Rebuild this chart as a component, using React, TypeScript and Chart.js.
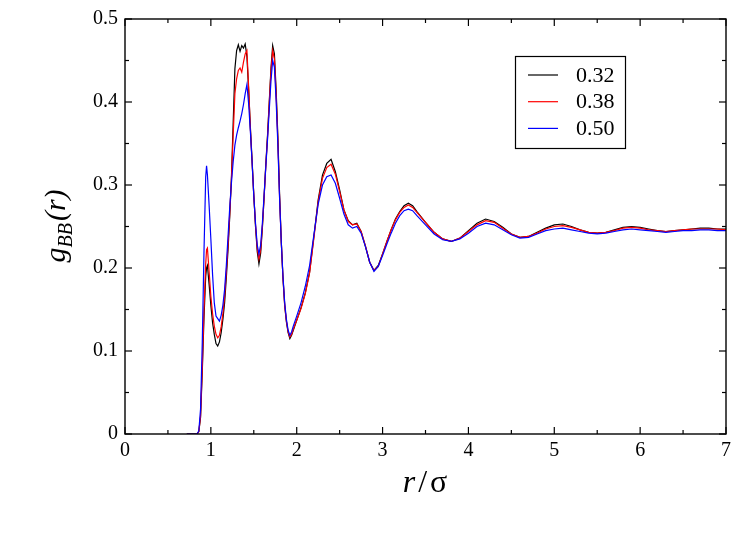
import React, { useEffect, useRef } from 'react';
import { Chart, registerables } from 'chart.js';

Chart.register(...registerables);

// r / sigma sample positions (shared by the three curves)
const rValues = [
  0.72, 0.8, 0.84, 0.86, 0.88, 0.9, 0.92, 0.94, 0.95, 0.96, 0.98,
  1.0, 1.02, 1.04, 1.06, 1.08, 1.1, 1.12, 1.14, 1.16, 1.18,
  1.2, 1.22, 1.24, 1.26, 1.28, 1.3, 1.32, 1.34, 1.36, 1.38,
  1.4, 1.42, 1.44, 1.46, 1.48, 1.5, 1.52, 1.54, 1.56, 1.58,
  1.6, 1.62, 1.64, 1.66, 1.68, 1.7, 1.72, 1.74, 1.76, 1.78,
  1.8, 1.82, 1.84, 1.86, 1.88, 1.9, 1.92, 1.94, 1.96, 1.98, 2.0,
  2.05, 2.1, 2.15, 2.2, 2.25, 2.3, 2.35, 2.4, 2.45, 2.5,
  2.55, 2.6, 2.65, 2.7, 2.75, 2.8, 2.85, 2.9, 2.95, 3.0,
  3.05, 3.1, 3.15, 3.2, 3.25, 3.3, 3.35, 3.4,
  3.5, 3.6, 3.7, 3.8, 3.9, 4.0, 4.1, 4.2, 4.3, 4.4, 4.5, 4.6,
  4.7, 4.8, 4.9, 5.0, 5.1, 5.2, 5.3, 5.4, 5.5, 5.6, 5.7, 5.8,
  5.9, 6.0, 6.1, 6.2, 6.3, 6.4, 6.5, 6.6, 6.7, 6.8, 6.9, 7.0,
];

const seriesLabels = ['0.32', '0.38', '0.50'];
const seriesColors = ['#000000', '#ff0000', '#0000ff'];

const g032 = [
  0, 0, 0, 0.003, 0.02, 0.075, 0.14, 0.19, 0.2, 0.203, 0.18,
  0.155, 0.134, 0.12, 0.109, 0.106, 0.111, 0.122, 0.138, 0.158, 0.188,
  0.222, 0.262, 0.31, 0.375, 0.44, 0.462, 0.469, 0.461, 0.468, 0.465,
  0.47, 0.455, 0.415, 0.37, 0.33, 0.288, 0.25, 0.22, 0.205, 0.218,
  0.248, 0.285, 0.325, 0.36, 0.4, 0.44, 0.468, 0.458, 0.415, 0.36,
  0.29, 0.232, 0.188, 0.155, 0.135, 0.122, 0.115, 0.119, 0.125, 0.131, 0.137,
  0.152, 0.17, 0.195, 0.238, 0.282, 0.312, 0.326, 0.331, 0.316, 0.294,
  0.27, 0.257, 0.252, 0.254, 0.244, 0.226, 0.207, 0.197, 0.203, 0.217,
  0.232, 0.246, 0.259, 0.268, 0.275, 0.278, 0.275, 0.268,
  0.255, 0.243, 0.235, 0.232, 0.236, 0.245, 0.254, 0.259, 0.256, 0.249, 0.241, 0.237,
  0.238, 0.243, 0.248, 0.252, 0.253, 0.25, 0.246, 0.243, 0.242, 0.243, 0.246, 0.249,
  0.25, 0.249, 0.247, 0.245, 0.244, 0.245, 0.246, 0.247, 0.248, 0.248, 0.247, 0.247,
];

const g038 = [
  0, 0, 0, 0.003, 0.022, 0.08, 0.15, 0.205, 0.222, 0.224, 0.195,
  0.166, 0.145, 0.13, 0.12, 0.116, 0.119, 0.129, 0.145, 0.166, 0.195,
  0.228, 0.266, 0.308, 0.36, 0.41, 0.428, 0.438, 0.441, 0.436, 0.448,
  0.458, 0.462, 0.418, 0.368, 0.328, 0.288, 0.252, 0.224, 0.211, 0.222,
  0.25, 0.285, 0.323, 0.358, 0.398, 0.437, 0.462, 0.452, 0.41, 0.355,
  0.287, 0.232, 0.188, 0.155, 0.136, 0.123, 0.117, 0.12, 0.126, 0.132, 0.137,
  0.151, 0.169, 0.194, 0.236, 0.28, 0.308, 0.321, 0.325, 0.313, 0.292,
  0.27, 0.256, 0.252, 0.253, 0.244, 0.227, 0.207, 0.197, 0.202, 0.217,
  0.232, 0.246, 0.258, 0.267, 0.273, 0.276, 0.273, 0.267,
  0.255, 0.243, 0.235, 0.232, 0.236, 0.244, 0.252, 0.257, 0.255, 0.248, 0.241, 0.237,
  0.238, 0.242, 0.247, 0.25, 0.251, 0.249, 0.246, 0.243, 0.242, 0.243, 0.245, 0.248,
  0.249, 0.248, 0.246, 0.245, 0.244, 0.245, 0.246, 0.247, 0.247, 0.247, 0.247, 0.246,
];

const g050 = [
  0, 0, 0, 0.004, 0.03, 0.11, 0.22, 0.31, 0.323, 0.312, 0.275,
  0.235, 0.192, 0.158, 0.142, 0.139, 0.136, 0.143, 0.155, 0.174, 0.203,
  0.238, 0.273, 0.303, 0.328, 0.348, 0.36, 0.369, 0.377, 0.386, 0.397,
  0.41, 0.421, 0.398, 0.365, 0.328, 0.287, 0.254, 0.228, 0.217, 0.228,
  0.254, 0.288, 0.322, 0.355, 0.39, 0.425, 0.45, 0.442, 0.402, 0.35,
  0.285, 0.232, 0.19, 0.158, 0.138, 0.125, 0.119, 0.123, 0.13, 0.136, 0.142,
  0.158, 0.178, 0.203, 0.24, 0.277, 0.3, 0.31, 0.312, 0.302, 0.284,
  0.265, 0.252, 0.248, 0.25, 0.242, 0.226, 0.207, 0.196, 0.202, 0.215,
  0.229, 0.242, 0.254, 0.263, 0.269, 0.271, 0.269, 0.263,
  0.252, 0.241, 0.234, 0.232, 0.235, 0.242, 0.25, 0.254, 0.252, 0.246, 0.24, 0.236,
  0.237, 0.241, 0.245, 0.247, 0.248, 0.246, 0.244, 0.242, 0.241, 0.242, 0.244, 0.246,
  0.247, 0.246, 0.245, 0.244, 0.243, 0.244, 0.245, 0.245, 0.246, 0.246, 0.245, 0.245,
];

const xMajorTicks = [0, 1, 2, 3, 4, 5, 6, 7];
const xMinorTicks = [0.5, 1.5, 2.5, 3.5, 4.5, 5.5, 6.5];
const yMajorTicks = [0, 0.1, 0.2, 0.3, 0.4, 0.5];
const yMinorTicks = [0.05, 0.15, 0.25, 0.35, 0.45];
const yTickLabels = ['0', '0.1', '0.2', '0.3', '0.4', '0.5'];

const SERIF = '"Liberation Serif", "Times New Roman", serif';

const toPoints = (ys: number[]) => ys.map((y, i) => ({ x: rValues[i], y }));

// frame + inward ticks on all four sides
const framePlugin = {
  id: 'frameTicks',
  afterDatasetsDraw(chart: any) {
    const { ctx, chartArea: a, scales } = chart;
    const sx = scales.x;
    const sy = scales.y;
    const line = (x1: number, y1: number, x2: number, y2: number) => {
      ctx.beginPath();
      ctx.moveTo(x1, y1);
      ctx.lineTo(x2, y2);
      ctx.stroke();
    };
    ctx.save();
    ctx.strokeStyle = '#000';
    ctx.lineWidth = 1.4;
    ctx.strokeRect(a.left, a.top, a.right - a.left, a.bottom - a.top);
    ctx.lineWidth = 1.2;
    const drawX = (vals: number[], len: number) =>
      vals.forEach((v) => {
        const px = sx.getPixelForValue(v);
        line(px, a.bottom, px, a.bottom - len);
        line(px, a.top, px, a.top + len);
      });
    const drawY = (vals: number[], len: number) =>
      vals.forEach((v) => {
        const py = sy.getPixelForValue(v);
        line(a.left, py, a.left + len, py);
        line(a.right, py, a.right - len, py);
      });
    drawX(xMajorTicks, 7);
    drawX(xMinorTicks, 4);
    drawY(yMajorTicks, 7);
    drawY(yMinorTicks, 4);
    ctx.restore();
  },
};

// boxed legend inside the plot
const legendPlugin = {
  id: 'boxLegend',
  afterDraw(chart: any) {
    const { ctx } = chart;
    ctx.save();
    ctx.strokeStyle = '#000';
    ctx.lineWidth = 1.2;
    ctx.strokeRect(515.5, 56.5, 110, 92);
    ctx.font = `22px ${SERIF}`;
    ctx.fillStyle = '#000';
    ctx.textBaseline = 'middle';
    ctx.textAlign = 'left';
    seriesLabels.forEach((label, i) => {
      const y = 75 + i * 26.7;
      ctx.strokeStyle = seriesColors[i];
      ctx.lineWidth = 1.2;
      ctx.beginPath();
      ctx.moveTo(528, y);
      ctx.lineTo(558, y);
      ctx.stroke();
      ctx.fillText(label, 576, y + 1);
    });
    ctx.restore();
  },
};

// axis titles with subscript and greek letter
const titlePlugin = {
  id: 'axisTitles',
  afterDraw(chart: any) {
    const { ctx } = chart;
    ctx.save();
    ctx.fillStyle = '#000';
    ctx.textBaseline = 'alphabetic';
    ctx.textAlign = 'left';

    // y title: g_BB(r), rotated
    const big = `italic 30px ${SERIF}`;
    const small = `italic 20px ${SERIF}`;
    ctx.font = big;
    const wg = ctx.measureText('g').width;
    const wp = ctx.measureText('(r)').width;
    ctx.font = small;
    const wb = ctx.measureText('BB').width;
    const total = wg + wb + wp + 2;
    ctx.translate(65, 226);
    ctx.rotate(-Math.PI / 2);
    let x0 = -total / 2;
    ctx.font = big;
    ctx.fillText('g', x0, 0);
    x0 += wg;
    ctx.font = small;
    ctx.fillText('BB', x0, 7);
    x0 += wb + 2;
    ctx.font = big;
    ctx.fillText('(r)', x0, 0);
    ctx.setTransform(1, 0, 0, 1, 0, 0);

    // x title: r / sigma
    const fr = `italic 32px ${SERIF}`;
    const fu = `32px ${SERIF}`;
    ctx.font = fr;
    const wr = ctx.measureText('r').width;
    ctx.font = fu;
    const ws = ctx.measureText('/').width;
    const wsig = ctx.measureText('σ').width;
    const tw = wr + ws + wsig + 6;
    let xx = 425 - tw / 2;
    ctx.font = fr;
    ctx.fillText('r', xx, 492);
    xx += wr + 3;
    ctx.font = fu;
    ctx.fillText('/', xx, 492);
    xx += ws + 3;
    ctx.fillText('σ', xx, 492);
    ctx.restore();
  },
};

export default function App() {
  const canvasRef = useRef<HTMLCanvasElement>(null);

  useEffect(() => {
    const ctx = canvasRef.current?.getContext('2d');
    if (!ctx) return;
    const series = [g032, g038, g050];
    const chart = new Chart(ctx, {
      type: 'line',
      data: {
        datasets: series.map((ys, i) => ({
          label: seriesLabels[i],
          data: toPoints(ys),
          borderColor: seriesColors[i],
          borderWidth: 1.2,
          pointRadius: 0,
          tension: 0,
          fill: false,
          order: 2 - i,
        })),
      },
      options: {
        animation: false,
        responsive: false,
        events: [],
        layout: { padding: { top: 14, right: 23, left: 0, bottom: 0 } },
        plugins: { legend: { display: false }, tooltip: { enabled: false } },
        scales: {
          x: {
            type: 'linear',
            min: 0,
            max: 7,
            afterBuildTicks: (s: any) => {
              s.ticks = xMajorTicks.map((v) => ({ value: v }));
            },
            afterFit: (s: any) => {
              s.height = 105;
            },
            grid: { display: false, drawTicks: false },
            border: { display: false },
            ticks: {
              color: '#000',
              padding: 5,
              maxRotation: 0,
              autoSkip: false,
              font: { family: SERIF, size: 20 },
            },
          },
          y: {
            type: 'linear',
            min: 0,
            max: 0.5,
            afterBuildTicks: (s: any) => {
              s.ticks = yMajorTicks.map((v) => ({ value: v }));
            },
            afterFit: (s: any) => {
              s.width = 125;
            },
            grid: { display: false, drawTicks: false },
            border: { display: false },
            ticks: {
              color: '#000',
              padding: 7,
              autoSkip: false,
              font: { family: SERIF, size: 20 },
              callback: (_v: any, i: number) => yTickLabels[i],
            },
          },
        },
      },
      plugins: [framePlugin, legendPlugin, titlePlugin],
    });
    return () => {
      chart.destroy();
    };
  }, []);

  return (
    <div style={{ position: 'fixed', left: 0, top: 0, width: 749, height: 539, background: '#fff' }}>
      <canvas ref={canvasRef} width={749} height={539} style={{ display: 'block' }} />
    </div>
  );
}
